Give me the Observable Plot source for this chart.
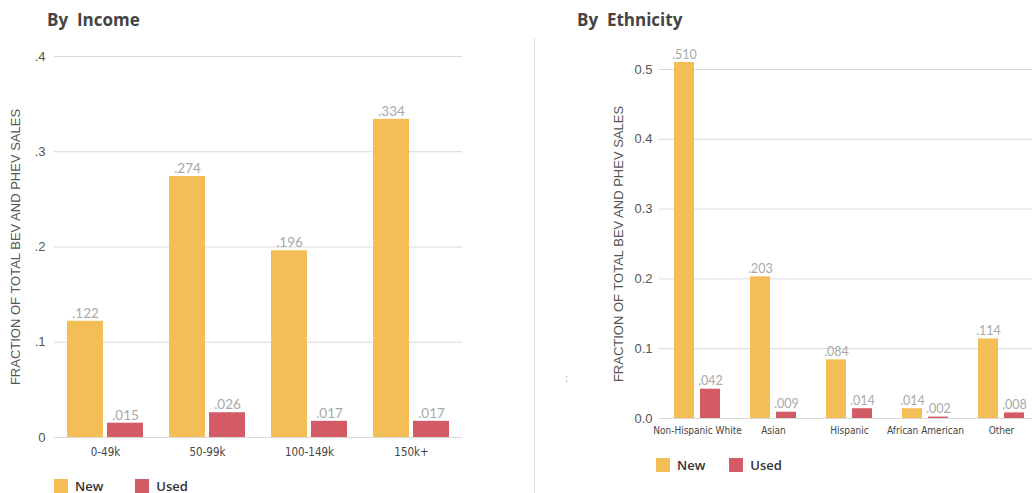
<!DOCTYPE html>
<html>
<head>
<meta charset="utf-8">
<script src="https://cdn.jsdelivr.net/npm/d3@7"></script>
<script src="https://cdn.jsdelivr.net/npm/@observablehq/plot@0.6"></script>
<style>
  html, body { margin: 0; padding: 0; background: #fff; overflow: hidden; }
  body { width: 1032px; height: 493px; position: relative; font-family: "Open Sans", "Liberation Sans", sans-serif; }
  .title { position: absolute; top: 8px; font-size: 17px; font-weight: 700; color: #444; white-space: pre; }
  .chart { position: absolute; top: 40px; }
  .chart svg { max-width: none !important; }
  .legend { position: absolute; display: flex; align-items: center; font-size: 13px; font-weight: 600; color: #333; }
  .legend .sw { width: 14px; height: 14px; display: inline-block; margin-right: 7px; }
  .legend .item { display: flex; align-items: center; }
  .sep { position: absolute; left: 534px; top: 38px; width: 1px; height: 460px; background: #ddd; }
  .mark { position: absolute; left: 565px; top: 370px; font-size: 11px; color: #999; }
</style>
</head>
<body>
<div class="title" style="left:47px">By  Income</div>
<div class="title" style="left:577px">By  Ethnicity</div>
<div class="sep"></div>
<div class="mark">:</div>
<div id="left" class="chart" style="left:0px; width:520px"></div>
<div id="right" class="chart" style="left:540px; width:500px"></div>
<div id="legLeft" class="legend" style="left:54px; top:477px"></div>
<div id="legRight" class="legend" style="left:656px; top:456px"></div>
<script>
// ---- data ----
const incomeCats = ["0-49k", "50-99k", "100-149k", "150k+"];
const incomeNew  = [0.122, 0.274, 0.196, 0.334];
const incomeUsed = [0.015, 0.026, 0.017, 0.017];
const incomeTicks = [0, 0.1, 0.2, 0.3, 0.4];

const ethCats = ["Non-Hispanic White", "Asian", "Hispanic", "African American", "Other"];
const ethNew  = [0.510, 0.203, 0.084, 0.014, 0.114];
const ethUsed = [0.042, 0.009, 0.014, 0.002, 0.008];
const ethTicks = [0, 0.1, 0.2, 0.3, 0.4, 0.5];

const types = ["New", "Used"];
const colors = ["#F2BE55", "#D35B65"];
const yLabel = "FRACTION OF TOTAL BEV AND PHEV SALES";

const valFmt = v => d3.format(".3f")(v).replace(/^0/, "");

function build(cats, nw, used) {
  return cats.flatMap((c, i) => [
    {cat: c, type: "New", value: nw[i]},
    {cat: c, type: "Used", value: used[i]}
  ]);
}

function chart(o) {
  const data = build(o.cats, o.nw, o.used);
  return Plot.plot({
    width: o.width, height: o.height,
    marginLeft: o.marginLeft, marginRight: o.marginRight,
    marginTop: o.marginTop, marginBottom: o.marginBottom,
    style: {fontFamily: "Liberation Sans, Arial, sans-serif", color: "#555", background: "transparent"},
    fx: {domain: o.cats, padding: 0, label: null},
    x: {domain: types, paddingInner: o.pi, paddingOuter: o.po, axis: null},
    y: {domain: o.domain, axis: null},
    color: {domain: types, range: colors},
    marks: [
      Plot.ruleY(o.ticks, {stroke: "#d9d9d9", strokeWidth: 1}),
      Plot.barY(data, {fx: "cat", x: "type", y: "value", fill: "type"}),
      Plot.text(data, {fx: "cat", x: "type", y: "value", text: d => valFmt(d.value),
        dy: -8, fill: "#a9a9a9", fontSize: o.valSize, fontFamily: "Lato, Open Sans, sans-serif"}),
      Plot.axisY({ticks: o.ticks, tickFormat: o.tickFmt, tickSize: 0, tickPadding: o.tickPad,
        fontSize: 13, fill: "#555", label: yLabel, labelAnchor: "center", labelArrow: "none",
        labelOffset: o.labelOffset}),
      Plot.axisFx({anchor: "bottom", tickSize: 0, tickPadding: o.fxPad, label: null, fontSize: o.catSize,
        fontFamily: "Liberation Sans Narrow, DejaVu Sans Condensed, sans-serif", fill: "#444"})
    ]
  });
}

document.getElementById("left").append(chart({
  cats: incomeCats, nw: incomeNew, used: incomeUsed, ticks: incomeTicks,
  tickFmt: d => d === 0 ? "0" : d3.format(".1f")(d).replace(/^0/, ""),
  domain: [0, 0.4],
  width: 520, height: 427, marginLeft: 53, marginRight: 58, marginTop: 16, marginBottom: 30,
  pi: 0.098, po: 0.293, tickPad: 9, labelOffset: 44, fxPad: 10, catSize: 11.5, valSize: 13.5
}));

document.getElementById("right").append(chart({
  cats: ethCats, nw: ethNew, used: ethUsed, ticks: ethTicks,
  tickFmt: d3.format(".1f"),
  domain: [0, 0.5],
  width: 500, height: 408, marginLeft: 119, marginRight: 1, marginTop: 29, marginBottom: 30,
  pi: 0.222, po: 0.519, tickPad: 7, labelOffset: 46, fxPad: 8, catSize: 10, valSize: 12.5
}));

function legend(id, gap) {
  const el = document.getElementById(id);
  types.forEach((t, i) => {
    const item = document.createElement("div");
    item.className = "item";
    if (i > 0) item.style.marginLeft = gap + "px";
    item.innerHTML = `<span class="sw" style="background:${colors[i]}"></span><span>${t}</span>`;
    el.append(item);
  });
}
legend("legLeft", 32);
legend("legRight", 24);
</script>
</body>
</html>
